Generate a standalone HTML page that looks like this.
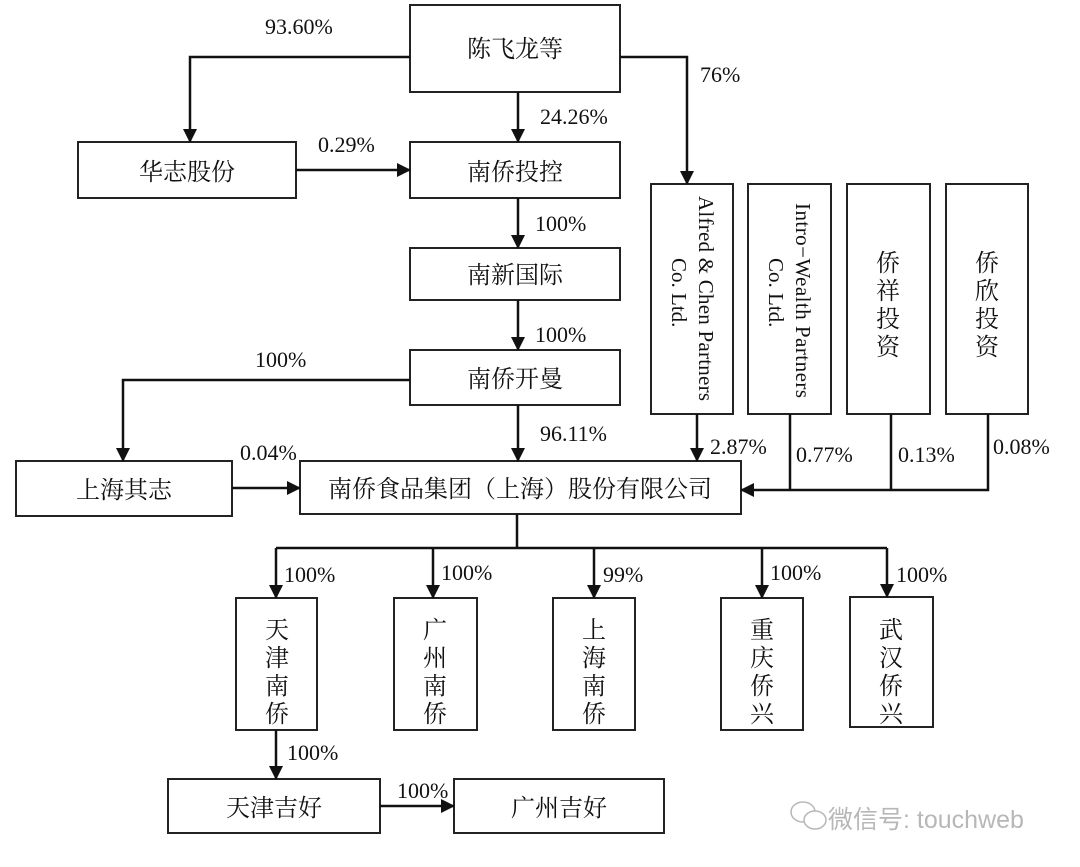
<!DOCTYPE html>
<html><head><meta charset="utf-8"><style>
html,body{margin:0;padding:0;background:#fff;}
svg{display:block;}
text{font-family:"Liberation Serif","Noto Serif CJK SC",serif;fill:#111;}
.c{font-size:24px;}
.p{font-size:22px;}
</style></head><body>
<svg width="1080" height="867" viewBox="0 0 1080 867" xmlns="http://www.w3.org/2000/svg">
<defs><marker id="a" markerWidth="14" markerHeight="14" refX="13" refY="7" orient="auto" markerUnits="userSpaceOnUse"><path d="M0,0 L14,7 L0,14 z" fill="#111"/></marker></defs>
<g fill="#fff" stroke="#222" stroke-width="2">
<rect x="410" y="5" width="210" height="87"/>
<rect x="78" y="142" width="218" height="56"/>
<rect x="410" y="142" width="210" height="56"/>
<rect x="410" y="248" width="210" height="52"/>
<rect x="410" y="350" width="210" height="55"/>
<rect x="651" y="184" width="82" height="230"/>
<rect x="748" y="184" width="83" height="230"/>
<rect x="847" y="184" width="83" height="230"/>
<rect x="946" y="184" width="82" height="230"/>
<rect x="16" y="461" width="216" height="55"/>
<rect x="300" y="461" width="441" height="53"/>
<rect x="236" y="598" width="81" height="132"/>
<rect x="394" y="598" width="83" height="132"/>
<rect x="553" y="598" width="82" height="132"/>
<rect x="721" y="598" width="82" height="132"/>
<rect x="850" y="597" width="83" height="130"/>
<rect x="168" y="779" width="212" height="54"/>
<rect x="454" y="779" width="210" height="54"/>
</g>
<g fill="none" stroke="#111" stroke-width="2.5">
<path d="M410,57 H190 V142" marker-end="url(#a)"/>
<path d="M620,57 H687 V184" marker-end="url(#a)"/>
<path d="M518,92 V142" marker-end="url(#a)"/>
<path d="M296,170 H410" marker-end="url(#a)"/>
<path d="M518,198 V248" marker-end="url(#a)"/>
<path d="M518,300 V350" marker-end="url(#a)"/>
<path d="M410,380 H123 V461" marker-end="url(#a)"/>
<path d="M518,405 V461" marker-end="url(#a)"/>
<path d="M232,488 H300" marker-end="url(#a)"/>
<path d="M697,414 V461" marker-end="url(#a)"/>
<path d="M790,414 V490 M891,414 V490"/>
<path d="M988,414 V490 H741" marker-end="url(#a)"/>
<path d="M517,514 V548 M276,548 H887"/>
<path d="M276,548 V598" marker-end="url(#a)"/>
<path d="M433,548 V598" marker-end="url(#a)"/>
<path d="M594,548 V598" marker-end="url(#a)"/>
<path d="M762,548 V598" marker-end="url(#a)"/>
<path d="M887,548 V597" marker-end="url(#a)"/>
<path d="M276,730 V779" marker-end="url(#a)"/>
<path d="M380,806 H454" marker-end="url(#a)"/>
</g>
<g class="c" text-anchor="middle">
<text x="515" y="57">陈飞龙等</text>
<text x="187" y="180">华志股份</text>
<text x="515" y="180">南侨投控</text>
<text x="515" y="283">南新国际</text>
<text x="515" y="387">南侨开曼</text>
<text x="124" y="498">上海其志</text>
<text x="520" y="497">南侨食品集团（上海）股份有限公司</text>
<text x="274" y="816">天津吉好</text>
<text x="559" y="816">广州吉好</text>
</g>
<g class="c" text-anchor="middle">
<text x="888" y="271">侨</text><text x="888" y="299">祥</text><text x="888" y="327">投</text><text x="888" y="355">资</text>
<text x="987" y="271">侨</text><text x="987" y="299">欣</text><text x="987" y="327">投</text><text x="987" y="355">资</text>
<text x="277" y="638">天</text><text x="277" y="666">津</text><text x="277" y="694">南</text><text x="277" y="722">侨</text>
<text x="435" y="638">广</text><text x="435" y="666">州</text><text x="435" y="694">南</text><text x="435" y="722">侨</text>
<text x="594" y="638">上</text><text x="594" y="666">海</text><text x="594" y="694">南</text><text x="594" y="722">侨</text>
<text x="762" y="638">重</text><text x="762" y="666">庆</text><text x="762" y="694">侨</text><text x="762" y="722">兴</text>
<text x="891" y="638">武</text><text x="891" y="666">汉</text><text x="891" y="694">侨</text><text x="891" y="722">兴</text>
</g>
<g style="font-size:21px">
<text transform="translate(699,196) rotate(90)" textLength="205" lengthAdjust="spacing">Alfred &amp; Chen Partners</text>
<text transform="translate(672,258) rotate(90)">Co.  Ltd.</text>
<text transform="translate(796,203) rotate(90)" textLength="195" lengthAdjust="spacing">Intro−Wealth Partners</text>
<text transform="translate(769,258) rotate(90)">Co.  Ltd.</text>
</g>
<g class="p">
<text x="265" y="34">93.60%</text>
<text x="700" y="82">76%</text>
<text x="540" y="124">24.26%</text>
<text x="318" y="152">0.29%</text>
<text x="535" y="231">100%</text>
<text x="535" y="342">100%</text>
<text x="255" y="367">100%</text>
<text x="540" y="441">96.11%</text>
<text x="240" y="460">0.04%</text>
<text x="710" y="454">2.87%</text>
<text x="796" y="462">0.77%</text>
<text x="898" y="462">0.13%</text>
<text x="993" y="454">0.08%</text>
<text x="284" y="582">100%</text>
<text x="441" y="580">100%</text>
<text x="603" y="582">99%</text>
<text x="770" y="580">100%</text>
<text x="896" y="582">100%</text>
<text x="287" y="760">100%</text>
<text x="397" y="798">100%</text>
</g>
<g opacity="0.6">
<ellipse cx="803" cy="812" rx="12" ry="10" fill="none" stroke="#888" stroke-width="1.5"/>
<ellipse cx="815" cy="820" rx="11" ry="9" fill="#fff" stroke="#888" stroke-width="1.5"/>
<text x="828" y="828" style="font-family:'Liberation Sans','Noto Sans CJK SC',sans-serif;font-size:25px;fill:#888">微信号: touchweb</text>
</g>
</svg>
</body></html>
